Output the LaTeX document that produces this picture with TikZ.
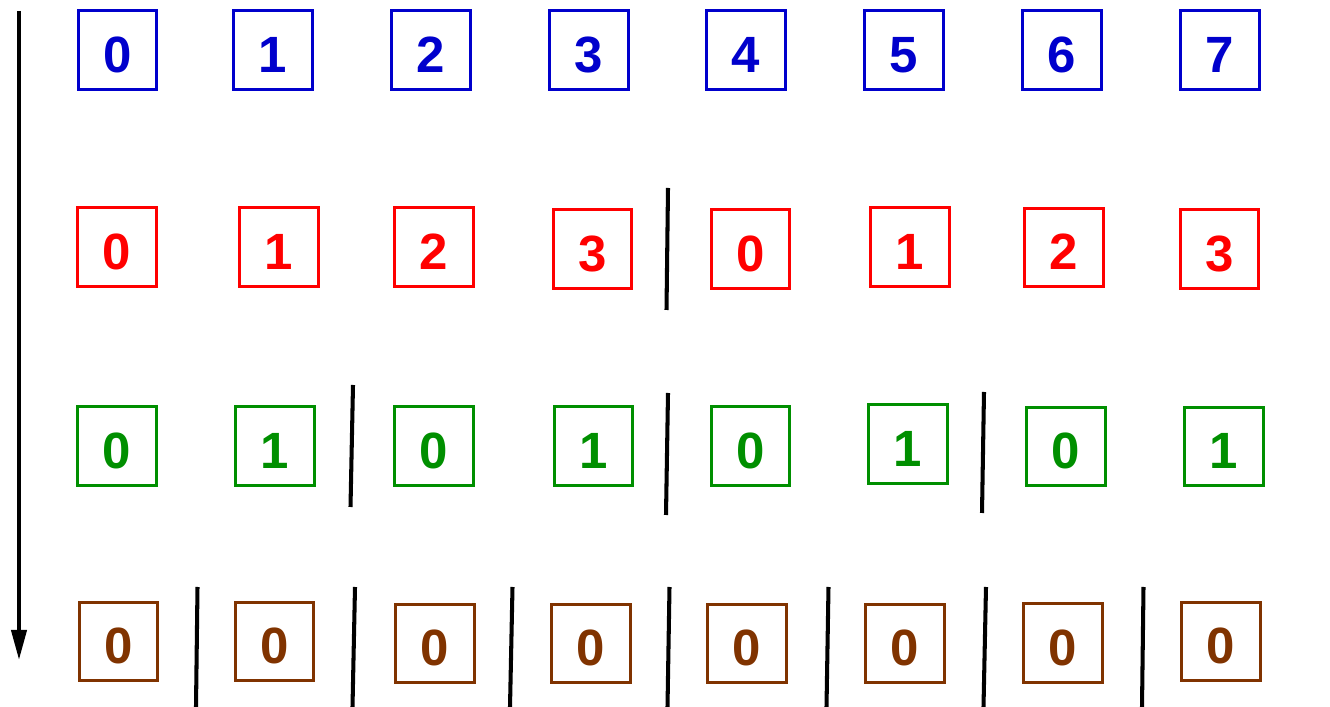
\documentclass[tikz,border=0pt]{standalone}
\usepackage{fontspec}
\setmainfont{Liberation Sans}
\usetikzlibrary{arrows.meta}
\definecolor{blue}{RGB}{0,0,204}
\definecolor{red}{RGB}{255,0,0}
\definecolor{green}{RGB}{0,143,0}
\definecolor{brown}{RGB}{128,51,0}

\tikzset{
  cell/.style={draw, line width=0.85pt, minimum size=0.78cm, inner sep=0pt,
               text height=0.44cm, text depth=0pt,
               font=\fontsize{14.5}{16}\selectfont\bfseries},
  split/.style={line width=1.15pt}
}

\begin{document}
\begin{tikzpicture}[x=0.01cm, y=-0.01cm]

\useasboundingbox (0,0) rectangle (1330,707);

%---------------------------------------
% Time axis
%---------------------------------------
\coordinate (top) at (19,11);
\coordinate (bot) at (19,660);
\draw[line width=1.15pt, -{Triangle[length=0.3cm, width=0.15cm]}] (top) -- (bot);

%---------------------------------------
% Row 1: eight cells
%---------------------------------------
\node[cell, blue] (b0) at (117.5,50) {0};
\node[cell, blue] (b1) at (273,50)   {1};
\node[cell, blue] (b2) at (431,50)   {2};
\node[cell, blue] (b3) at (589,50)   {3};
\node[cell, blue] (b4) at (746,50)   {4};
\node[cell, blue] (b5) at (904,50)   {5};
\node[cell, blue] (b6) at (1062,50)  {6};
\node[cell, blue] (b7) at (1220,50)  {7};

%---------------------------------------
% Row 2: two halves
%---------------------------------------
\node[cell, red] (r0) at (117,247)    {0};
\node[cell, red] (r1) at (279,247)    {1};
\node[cell, red] (r2) at (434,247)    {2};
\node[cell, red] (r3) at (592.5,249)  {3};
\node[cell, red] (r4) at (750.5,249)  {0};
\node[cell, red] (r5) at (910,247)    {1};
\node[cell, red] (r6) at (1064,247.5) {2};
\node[cell, red] (r7) at (1219.5,249) {3};

\draw[split] (668,188) -- (666.5,310);

%---------------------------------------
% Row 3: four quarters
%---------------------------------------
\node[cell, green] (g0) at (117,446)    {0};
\node[cell, green] (g1) at (275,446)    {1};
\node[cell, green] (g2) at (434,446)    {0};
\node[cell, green] (g3) at (593.5,446)  {1};
\node[cell, green] (g4) at (750.5,446)  {0};
\node[cell, green] (g5) at (908,444)    {1};
\node[cell, green] (g6) at (1066,446.5) {0};
\node[cell, green] (g7) at (1224,446.5) {1};

\draw[split] (353,385) -- (350.5,507);
\draw[split] (668,393) -- (666,515);
\draw[split] (984,392) -- (982,513);

%---------------------------------------
% Row 4: single cells
%---------------------------------------
\node[cell, brown] (n0) at (118.5,641.5) {0};
\node[cell, brown] (n1) at (274.5,641.5) {0};
\node[cell, brown] (n2) at (435,643.5)   {0};
\node[cell, brown] (n3) at (591,643.5)   {0};
\node[cell, brown] (n4) at (747,643.5)   {0};
\node[cell, brown] (n5) at (905,643.5)   {0};
\node[cell, brown] (n6) at (1063,643)    {0};
\node[cell, brown] (n7) at (1221,641.5)  {0};

\draw[split] (197.5,587) -- (196,707);
\draw[split] (355,587)   -- (352.5,707);
\draw[split] (512.5,587) -- (510,707);
\draw[split] (669.5,587) -- (667.5,707);
\draw[split] (828.5,587) -- (826.5,707);
\draw[split] (986,587)   -- (983.5,707);
\draw[split] (1143.5,587) -- (1142,707);

\end{tikzpicture}
\end{document}
